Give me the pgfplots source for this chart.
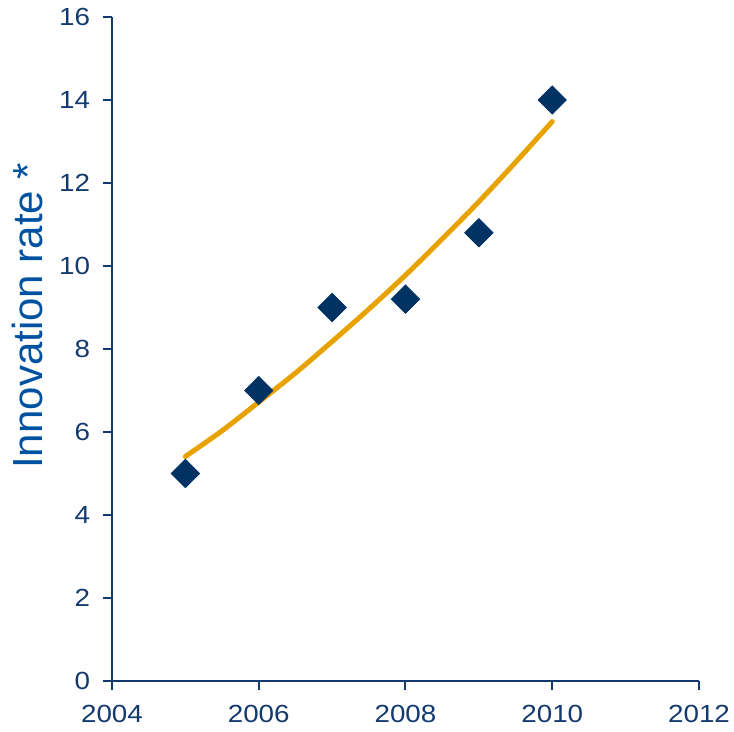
\documentclass[border=0pt]{standalone}
\usepackage{fontspec}
\setmainfont{Liberation Sans}
\newfontfamily\tickfont[FakeStretch=1.12]{Liberation Sans}
\usepackage{pgfplots}
\pgfplotsset{compat=1.18}

\definecolor{navy}{RGB}{0,50,100}
\definecolor{axisblue}{RGB}{18,58,110}
\definecolor{labelblue}{RGB}{0,82,160}
\definecolor{trend}{RGB}{232,162,0}

\begin{document}
\begin{tikzpicture}
\path[use as bounding box] (-56pt,-25.5pt) rectangle (311pt,340.5pt);
\begin{axis}[
  width=293.5pt, height=332pt,
  scale only axis,
  xmin=2004, xmax=2012, ymin=0, ymax=16,
  xtick={2004,2006,...,2012},
  ytick={0,2,...,16},
  axis lines*=left,
  axis line style={draw=axisblue, line width=1pt, -},
  tick style={draw=axisblue, line width=1pt},
  tick align=outside,
  major tick length=4.5pt,
  ticklabel style={font=\tickfont\fontsize{12.4}{14}\selectfont, text=axisblue},
  /pgf/number format/assume math mode=true,
  xticklabel style={/pgf/number format/1000 sep={}, yshift=-4pt},
  yticklabel style={xshift=-3pt},
  ylabel={Innovation rate *},
  ylabel style={font=\fontsize{21}{24}\selectfont, text=labelblue,
    at={(axis description cs:-0.1175,0.55)}, anchor=south, inner sep=0pt},
  clip=false,
]
% observed rates
\addplot[only marks, mark=square*, mark size=5pt,
  mark options={rotate=45, fill=navy, draw=navy}]
  coordinates {(2005,5) (2006,7) (2007,9) (2008,9.2) (2009,10.8) (2010,14)};
% trend line
\addplot[trend, line width=2.5pt, line cap=round, smooth, mark=none]
  coordinates {(2005,5.41) (2005.5,6.03) (2006,6.72) (2006.5,7.42) (2007,8.18)
    (2007.5,8.96) (2008,9.78) (2008.5,10.65) (2009,11.55) (2009.5,12.50) (2010,13.48)};
\end{axis}
\end{tikzpicture}
\end{document}
